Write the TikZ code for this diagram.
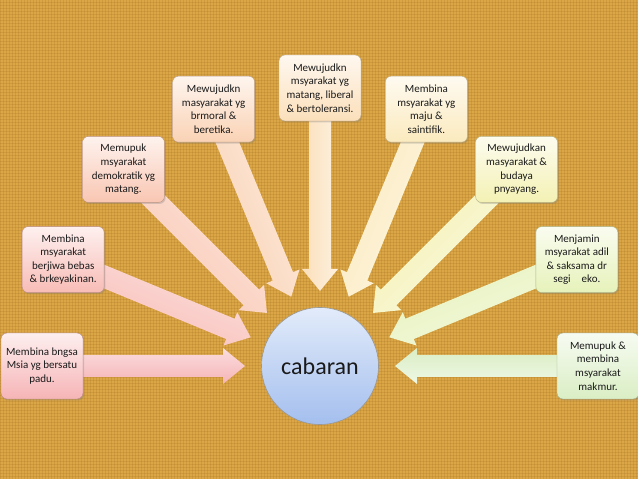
\documentclass[tikz,border=0pt]{standalone}
\usepackage{fontspec}
\setmainfont{Carlito}
\usetikzlibrary{shadows,patterns,calc}
\definecolor{bg}{HTML}{DAA646}
\definecolor{bgdark}{HTML}{9A6418}
\definecolor{hc1}{HTML}{F6B4B6}
\definecolor{hc2}{HTML}{F8BCB6}
\definecolor{hc3}{HTML}{F9C6B2}
\definecolor{hc4}{HTML}{FAD2B4}
\definecolor{hc5}{HTML}{FBDFBA}
\definecolor{hc6}{HTML}{FBEABE}
\definecolor{hc7}{HTML}{F4F1B4}
\definecolor{hc8}{HTML}{E6F2BA}
\definecolor{hc9}{HTML}{DAEEC4}
\definecolor{circtop}{HTML}{E2EBFA}
\definecolor{circbot}{HTML}{A4BFEE}
\definecolor{txt}{HTML}{1A1A1A}
\tikzset{
  goalbox/.style={rounded corners=6pt, minimum width=82pt, minimum height=66pt,
    align=center, font=\fontsize{11}{13.6}\selectfont, text=txt, inner sep=1pt,
    drop shadow={opacity=0.3, shadow xshift=1.2pt, shadow yshift=-1.5pt}}
}
\newcommand{\goal}[4]{% index, angle, text, color
  \node[goalbox, draw=#4!75!black, top color=#4!22!white, bottom color=#4]
    (b#1) at ($(c)+(#2:278)$) {#3};
}
\begin{document}
\begin{tikzpicture}[x=1pt,y=1pt]
\useasboundingbox (0,0) rectangle (638,479);
\fill[bg] (0,0) rectangle (638,479);
\fill[pattern=grid, pattern color=bgdark, opacity=0.18] (0,0) rectangle (638,479);
\coordinate (c) at (320,113);
% arrows
\foreach \i/\a in {1/180,2/157.5,3/135,4/112.5,5/90,6/67.5,7/45,8/22.5,9/0}{
  \pgfmathsetmacro{\sa}{\a-180}
  \coordinate (tip\i) at ($(c)+(\a:75)$);
  \begin{scope}[shift={(c)}, rotate=\a]
    \shade[left color=hc\i!45!white, right color=hc\i, shading angle=\sa]
      (270,11) -- (97,11) -- (97,18) -- (75,0) -- (97,-18) -- (97,-11) -- (270,-11) -- cycle;
  \end{scope}
}
% circle
\node[circle, minimum size=117pt, draw=black!40, line width=0.6pt,
  top color=circtop, bottom color=circbot, font=\fontsize{24}{28}\selectfont, text=txt]
  (cab) at (c) {cabaran};
% boxes
\goal{1}{180}{Membina bngsa\\Msia yg bersatu\\padu.}{hc1}
\goal{2}{157.5}{Membina\\msyarakat\\berjiwa bebas\\\& brkeyakinan.}{hc2}
\goal{3}{135}{Memupuk\\msyarakat\\demokratik yg\\matang.}{hc3}
\goal{4}{112.5}{Mewujudkn\\masyarakat yg\\brmoral \&\\beretika.}{hc4}
\goal{5}{90}{Mewujudkn\\msyarakat yg\\matang, liberal\\\& bertoleransi.}{hc5}
\goal{6}{67.5}{Membina\\msyarakat yg\\maju \&\\saintifik.}{hc6}
\goal{7}{45}{Mewujudkan\\masyarakat \&\\budaya\\pnyayang.}{hc7}
\goal{8}{22.5}{Menjamin\\msyarakat adil\\\& saksama dr\\segi\quad eko.}{hc8}
\goal{9}{0}{Memupuk \&\\membina\\msyarakat\\makmur.}{hc9}
\end{tikzpicture}
\end{document}
